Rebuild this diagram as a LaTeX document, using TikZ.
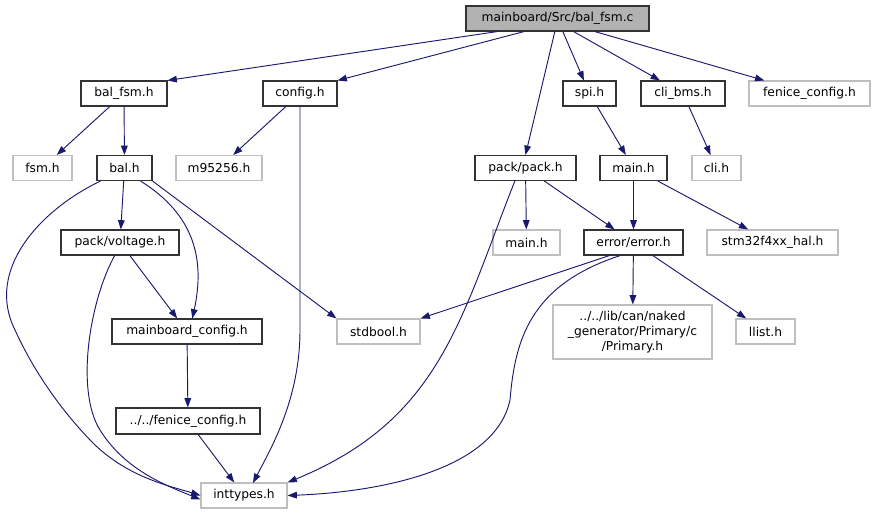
\documentclass[tikz,border=0pt]{standalone}
\usepackage{fontspec}
\setmainfont{DejaVu Sans}
\usetikzlibrary{arrows.meta}
\definecolor{edgeblue}{HTML}{191970}
\definecolor{boxgray}{HTML}{BFBFBF}
\tikzset{
  hdr/.style={draw=black!80, line width=0.8pt, rectangle, inner sep=0pt,
    font=\fontsize{9.2}{11}\selectfont, align=center},
  ext/.style={hdr, draw=boxgray},
  dep/.style={draw=edgeblue, line width=0.7pt, -{Triangle[length=7pt,width=5pt]}}
}
% box: style, name, center x, center y, width, height, text
\newcommand{\hdrbox}[7]{\node[#1, minimum width=#5*0.75pt, minimum height=#6*0.75pt] (#2) at (#3,#4) {#7};}
\begin{document}
\begin{tikzpicture}[x=0.75pt, y=-0.75pt]
  \useasboundingbox (0,0) rectangle (875,515);

  % Define the positions of the nodes
  \hdrbox{hdr, fill=black!30}{src}{557.5}{18.5}{183}{25}{mainboard/Src/bal\_fsm.c}

  \hdrbox{hdr}{balfsm}{124}{93.5}{86}{25}{bal\_fsm.h}
  \hdrbox{hdr}{config}{300}{93.5}{74}{25}{config.h}
  \hdrbox{hdr}{spi}{589.5}{93.5}{53}{25}{spi.h}
  \hdrbox{hdr}{clibms}{683}{93.5}{84}{25}{cli\_bms.h}
  \hdrbox{ext}{fenice}{809.5}{93.5}{121}{25}{fenice\_config.h}

  \hdrbox{ext}{fsm}{42.5}{168}{59}{25}{fsm.h}
  \hdrbox{hdr}{bal}{124.5}{168}{55}{25}{bal.h}
  \hdrbox{ext}{m95256}{219}{168}{86}{25}{m95256.h}
  \hdrbox{hdr}{pack}{525.5}{168}{101}{25}{pack/pack.h}
  \hdrbox{hdr}{mainh}{633.5}{168}{67}{25}{main.h}
  \hdrbox{ext}{cli}{716.5}{168}{49}{25}{cli.h}

  \hdrbox{hdr}{voltage}{120}{242.5}{118}{25}{pack/voltage.h}
  \hdrbox{ext}{mainext}{526.5}{242.5}{67}{25}{main.h}
  \hdrbox{hdr}{error}{633.5}{242.5}{99}{25}{error/error.h}
  \hdrbox{ext}{stm}{772.5}{242.5}{131}{25}{stm32f4xx\_hal.h}

  \hdrbox{hdr}{mbconfig}{187}{331.5}{150}{25}{mainboard\_config.h}
  \hdrbox{ext}{stdbool}{378.5}{331.5}{83}{25}{stdbool.h}
  \hdrbox{ext}{primary}{632.5}{332}{159}{54}{../../lib/can/naked\\\_generator/Primary/c\\/Primary.h}
  \hdrbox{ext}{llist}{765.5}{331.5}{59}{25}{llist.h}

  \hdrbox{hdr}{fenicerel}{188}{421}{144}{26}{../../fenice\_config.h}
  \hdrbox{ext}{inttypes}{244}{495.5}{86}{25}{inttypes.h}

  % Draw the edges
  \draw[dep] ([xshift=-45pt]src.south) -- (balfsm.north east);
  \draw[dep] ([xshift=-25pt]src.south) -- (config.north east);
  \draw[dep] ([xshift=-2pt]src.south) -- (pack.north);
  \draw[dep] ([xshift=4pt]src.south) -- (spi);
  \draw[dep] ([xshift=12pt]src.south) -- (clibms);
  \draw[dep] ([xshift=28pt]src.south) -- (fenice);

  \draw[dep] (balfsm) -- (fsm);
  \draw[dep] (balfsm) -- (bal);
  \draw[dep] (config) -- (m95256);
  \draw[dep] (config.south) -- (300,330) .. controls (300,400) and (270,450) .. (253,483);
  \draw[dep] (spi) -- (mainh);
  \draw[dep] (clibms) -- (cli);

  \draw[dep] (bal) -- (voltage);
  \draw[dep] ([xshift=12pt]bal.south) .. controls (195,215) and (205,260) .. ([xshift=4pt]mbconfig.north);
  \draw[dep] (bal.south east) -- (stdbool.north west);
  \draw[dep] ([xshift=-18pt]bal.south) .. controls (40,210) and (-15,270) .. (15,330)
    .. controls (40,385) and (75,425) .. (95,445) .. controls (130,478) and (170,486) .. (inttypes.west);
  \draw[dep] (voltage) -- (mbconfig);
  \draw[dep] ([xshift=-4pt]voltage.south) .. controls (90,300) and (75,390) .. (100,430)
    .. controls (125,470) and (165,485) .. ([yshift=-3pt]inttypes.west);
  \draw[dep] (mbconfig) -- (fenicerel);
  \draw[dep] (fenicerel) -- (inttypes);

  \draw[dep] (pack) -- (mainext);
  \draw[dep] (pack) -- (error);
  \draw[dep] ([xshift=-8pt]pack.south) .. controls (460,320) and (440,420) .. (inttypes.north east);
  \draw[dep] (mainh) -- (error);
  \draw[dep] (mainh) -- (stm);

  \draw[dep] ([xshift=-18pt]error.south) -- (stdbool.north east);
  \draw[dep] (error) -- (primary);
  \draw[dep] (error) -- (llist);
  \draw[dep] ([xshift=-10pt]error.south) .. controls (530,285) and (515,340) .. (510,400)
    .. controls (495,470) and (380,492) .. (inttypes.east);
\end{tikzpicture}
\end{document}
